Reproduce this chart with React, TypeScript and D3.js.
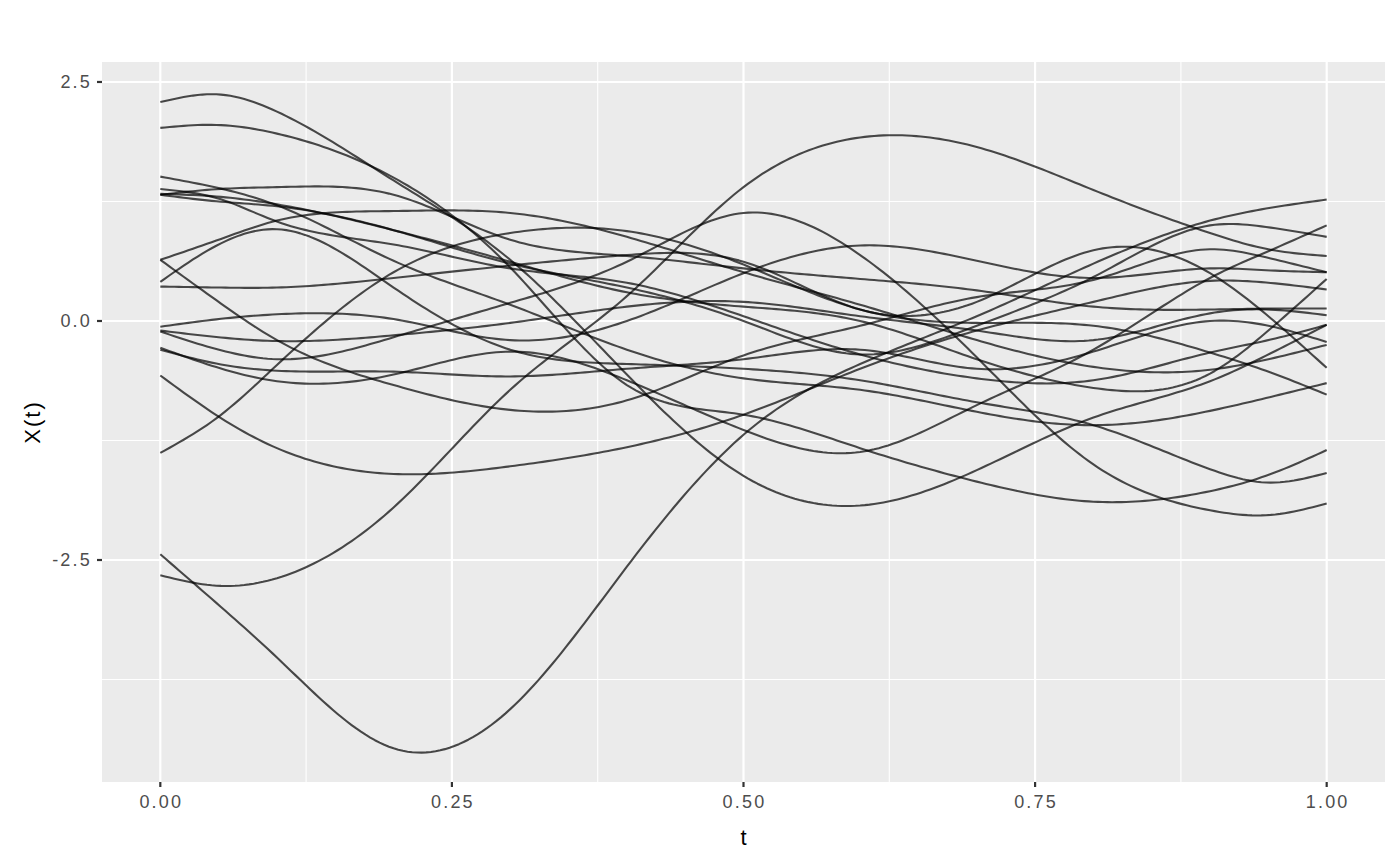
import React from "react";
import * as d3 from "d3";

// sampling positions along t (denser near the ends, where several curves turn)
const tGrid = [0, 0.05, 0.1, 0.2, 0.3, 0.4, 0.5, 0.6, 0.7, 0.8, 0.9, 0.95, 1.0];

const curve01 = [2.29, 2.37, 2.19, 1.47, 0.64, -0.56, -1.62, -1.93, -1.56, -1.01, -0.63, -0.35, -0.04];
const curve02 = [-2.66, -2.77, -2.69, -1.95, -0.72, 0.26, 1.4, 1.92, 1.82, 1.37, 0.92, 0.75, 0.68];
const curve03 = [-2.44, -2.97, -3.52, -4.47, -4.06, -2.57, -1.19, -0.45, 0.05, 0.6, 1.05, 1.18, 1.27];
const curve04 = [2.02, 2.05, 1.96, 1.5, 0.56, -0.67, -0.98, -1.33, -1.68, -1.89, -1.78, -1.61, -1.35];
const curve05 = [-0.11, -0.3, -0.4, -0.17, 0.19, 0.62, 1.13, 0.69, -0.38, -1.5, -1.98, -2.03, -1.91];
const curve06 = [0.64, 0.2, -0.2, -0.67, -0.93, -0.83, -0.36, -0.05, 0.25, 0.43, 0.75, 0.66, 0.51];
const curve07 = [-0.28, -0.49, -0.63, -0.56, -0.32, -0.62, -1.14, -1.37, -0.88, -0.3, 0.45, 0.73, 1.0];
const curve08 = [0.36, 0.35, 0.35, 0.45, 0.58, 0.69, 0.62, 0.12, 0.2, 0.74, 0.5, 0.05, -0.49];
const curve09 = [-0.06, 0.02, 0.07, 0.02, -0.2, 0.0, 0.5, 0.79, 0.63, 0.45, 0.55, 0.53, 0.51];
const curve10 = [-1.38, -1.0, -0.46, 0.51, 0.92, 0.94, 0.59, 0.12, -0.02, -0.05, -0.33, -0.53, -0.77];
const curve11 = [0.64, 0.85, 1.05, 1.15, 1.13, 0.88, 0.51, 0.17, -0.2, -0.48, -0.51, -0.4, -0.25];
const curve12 = [0.41, 0.8, 0.96, 0.35, -0.3, -0.45, -0.5, -0.62, -0.85, -1.09, -1.55, -1.69, -1.59];
const curve13 = [-0.57, -1.0, -1.33, -1.6, -1.52, -1.32, -0.98, -0.5, -0.1, 0.2, 0.42, 0.4, 0.33];
const curve14 = [1.51, 1.39, 1.21, 0.63, 0.17, -0.3, -0.6, -0.72, -0.95, -1.09, -0.94, -0.8, -0.65];
const curve15 = [1.38, 1.28, 1.04, 0.8, 0.55, 0.4, 0.05, -0.35, -0.6, -0.62, -0.33, -0.2, -0.04];
const curve16 = [1.32, 1.38, 1.4, 1.32, 0.85, 0.68, 0.55, 0.44, 0.32, 0.15, 0.12, 0.13, 0.13];
const curve17 = [1.32, 1.25, 1.2, 0.95, 0.6, 0.35, 0.0, -0.35, -0.05, 0.46, 1.0, 0.98, 0.88];
const curve18 = [-0.1, -0.17, -0.21, -0.15, -0.02, 0.15, 0.2, 0.05, -0.1, -0.2, 0.08, 0.12, 0.06];
const curve19 = [-0.3, -0.45, -0.52, -0.53, -0.58, -0.5, -0.4, -0.3, -0.5, -0.32, 0.0, -0.05, -0.22];
const curve20 = [1.33, 1.3, 1.22, 0.95, 0.62, 0.3, 0.15, 0.0, -0.4, -0.7, -0.55, -0.1, 0.44];

const seriesList = [
  curve01, curve02, curve03, curve04, curve05, curve06, curve07, curve08, curve09, curve10,
  curve11, curve12, curve13, curve14, curve15, curve16, curve17, curve18, curve19, curve20,
];

const xMajorTicks = [0, 0.25, 0.5, 0.75, 1];
const xTickLabels = ["0.00", "0.25", "0.50", "0.75", "1.00"];
const xMinorTicks = [0.125, 0.375, 0.625, 0.875];
const yMajorTicks = [-2.5, 0, 2.5];
const yTickLabels = ["-2.5", "0.0", "2.5"];
const yMinorTicks = [-3.75, -1.25, 1.25];

const W = 1400;
const H = 866;
const PL = 102;
const PR = 1385;
const PT = 62;
const PB = 782;
const FONT = "'Liberation Sans', Arial, Helvetica, sans-serif";

// natural cubic spline through (xs, ys), as a function of t
function naturalSpline(xs: number[], ys: number[]) {
  const n = xs.length - 1;
  const h: number[] = [];
  for (let i = 0; i < n; i++) h.push(xs[i + 1] - xs[i]);
  const alpha: number[] = new Array(n + 1).fill(0);
  for (let i = 1; i < n; i++) {
    alpha[i] = (3 / h[i]) * (ys[i + 1] - ys[i]) - (3 / h[i - 1]) * (ys[i] - ys[i - 1]);
  }
  const l = new Array(n + 1).fill(0);
  const mu = new Array(n + 1).fill(0);
  const z = new Array(n + 1).fill(0);
  l[0] = 1;
  for (let i = 1; i < n; i++) {
    l[i] = 2 * (xs[i + 1] - xs[i - 1]) - h[i - 1] * mu[i - 1];
    mu[i] = h[i] / l[i];
    z[i] = (alpha[i] - h[i - 1] * z[i - 1]) / l[i];
  }
  l[n] = 1;
  const c = new Array(n + 1).fill(0);
  const b = new Array(n).fill(0);
  const d = new Array(n).fill(0);
  for (let j = n - 1; j >= 0; j--) {
    c[j] = z[j] - mu[j] * c[j + 1];
    b[j] = (ys[j + 1] - ys[j]) / h[j] - (h[j] * (c[j + 1] + 2 * c[j])) / 3;
    d[j] = (c[j + 1] - c[j]) / (3 * h[j]);
  }
  return (t: number) => {
    let j = 0;
    while (j < n - 1 && t > xs[j + 1]) j++;
    const dx = t - xs[j];
    return ys[j] + b[j] * dx + c[j] * dx * dx + d[j] * dx * dx * dx;
  };
}

const sampleT = d3.range(0, 1.0001, 0.004);

export default function App() {
  const x = d3.scaleLinear().domain([-0.05, 1.05]).range([PL, PR]);
  const y = d3.scaleLinear().domain([-4.822, 2.709]).range([PB, PT]);
  const line = d3
    .line<[number, number]>()
    .x((p) => x(p[0]))
    .y((p) => y(p[1]));

  const paths = seriesList.map((s) => {
    const f = naturalSpline(tGrid, s);
    return line(sampleT.map((t) => [t, f(t)] as [number, number])) || "";
  });

  return (
    <svg
      width={W}
      height={H}
      style={{ position: "absolute", left: 0, top: 0, display: "block", background: "#fff" }}
      fontFamily={FONT}
    >
      <rect x={PL} y={PT} width={PR - PL} height={PB - PT} fill="#EBEBEB" />
      {xMinorTicks.map((t) => (
        <line key={"xm" + t} x1={x(t)} x2={x(t)} y1={PT} y2={PB} stroke="#fff" strokeWidth={1.1} />
      ))}
      {yMinorTicks.map((v) => (
        <line key={"ym" + v} x1={PL} x2={PR} y1={y(v)} y2={y(v)} stroke="#fff" strokeWidth={1.1} />
      ))}
      {xMajorTicks.map((t) => (
        <line key={"xM" + t} x1={x(t)} x2={x(t)} y1={PT} y2={PB} stroke="#fff" strokeWidth={2.2} />
      ))}
      {yMajorTicks.map((v) => (
        <line key={"yM" + v} x1={PL} x2={PR} y1={y(v)} y2={y(v)} stroke="#fff" strokeWidth={2.2} />
      ))}
      <g>
        {paths.map((d, i) => (
          <path
            key={i}
            d={d}
            fill="none"
            stroke="#000"
            strokeOpacity={0.7}
            strokeWidth={2.1}
            strokeLinejoin="round"
          />
        ))}
      </g>
      {yMajorTicks.map((v, i) => (
        <g key={"yt" + v}>
          <line x1={PL - 5} x2={PL} y1={y(v)} y2={y(v)} stroke="#333" strokeWidth={2.2} />
          <text
            x={PL - 10}
            y={y(v)}
            dy="0.36em"
            textAnchor="end"
            fontSize={18}
            letterSpacing={2.2}
            fill="#4D4D4D"
          >
            {yTickLabels[i]}
          </text>
        </g>
      ))}
      {xMajorTicks.map((t, i) => (
        <g key={"xt" + t}>
          <line x1={x(t)} x2={x(t)} y1={PB} y2={PB + 5} stroke="#333" strokeWidth={2.2} />
          <text
            x={x(t) + 1}
            y={808}
            textAnchor="middle"
            fontSize={18}
            letterSpacing={2.2}
            fill="#4D4D4D"
          >
            {xTickLabels[i]}
          </text>
        </g>
      ))}
      <text x={(PL + PR) / 2} y={845} textAnchor="middle" fontSize={22} fill="#000">
        t
      </text>
      <text
        transform={`translate(40, ${(PT + PB) / 2}) rotate(-90)`}
        textAnchor="middle"
        fontSize={22}
        letterSpacing={2}
        fill="#000"
      >
        X(t)
      </text>
    </svg>
  );
}
